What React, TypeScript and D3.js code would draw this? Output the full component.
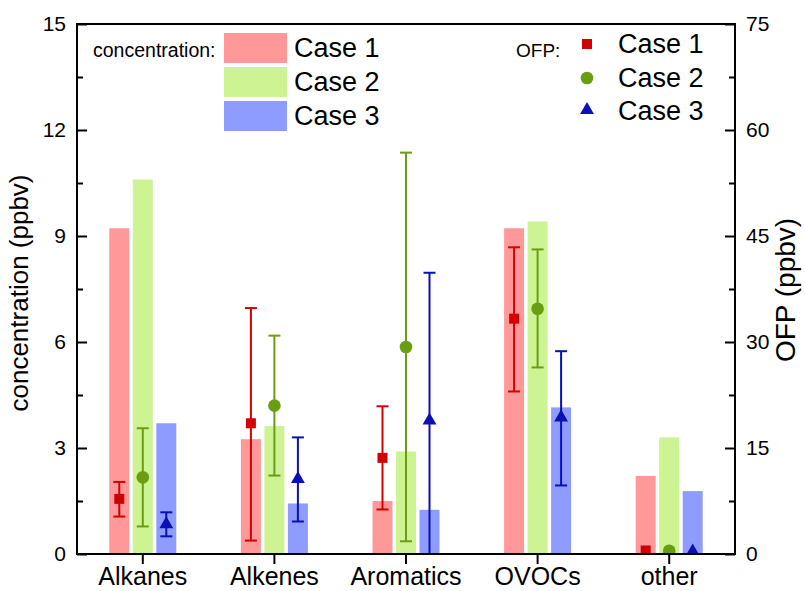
import React, { useEffect, useRef } from "react";
import * as d3 from "d3";

const categories = ["Alkanes", "Alkenes", "Aromatics", "OVOCs", "other"];
const caseNames = ["Case 1", "Case 2", "Case 3"];

// concentration (left axis, ppbv)
const conc1 = [9.22, 3.25, 1.5, 9.22, 2.21];
const conc2 = [10.6, 3.62, 2.9, 9.41, 3.3];
const conc3 = [3.7, 1.43, 1.25, 4.15, 1.78];

// OFP (right axis, ppbv) with error ranges
const ofp1 = [7.8, 18.5, 13.6, 33.3, 0.5];
const ofp1Low = [5.3, 1.9, 6.3, 23.0, 0.5];
const ofp1High = [10.2, 34.8, 20.9, 43.4, 0.5];
const ofp2 = [10.85, 21.0, 29.3, 34.7, 0.45];
const ofp2Low = [3.9, 11.1, 1.8, 26.4, 0.45];
const ofp2High = [17.8, 30.9, 56.8, 43.1, 0.45];
const ofp3 = [4.2, 10.6, 18.9, 19.3, 0.35];
const ofp3Low = [2.5, 4.6, 0, 9.7, 0.35];
const ofp3High = [5.9, 16.5, 39.8, 28.7, 0.35];

const leftMajor = [0, 3, 6, 9, 12, 15];
const leftMinor = [1.5, 4.5, 7.5, 10.5, 13.5];
const rightMajor = [0, 15, 30, 45, 60, 75];
const rightMinor = [7.5, 22.5, 37.5, 52.5, 67.5];

const barColors = ["#FF9999", "#CDF393", "#8F9CFF"];
const markColors = ["#D20000", "#6A9E12", "#0A10B4"];
const FONT = "'Liberation Sans', Arial, Helvetica, sans-serif";

const W = 805, H = 591;
const L = 77, R = 735, T = 24, B = 554;

export default function App() {
  const x = d3.scaleBand<string>().domain(categories).range([L, R]).padding(0);
  const yL = d3.scaleLinear().domain([0, 15]).range([B, T]);
  const yR = d3.scaleLinear().domain([0, 75]).range([B, T]);
  const off = d3.scaleLinear().domain([0, 2]).range([-23.5, 23.5]);
  const bw = 20;

  const concs = [conc1, conc2, conc3];
  const ofps = [ofp1, ofp2, ofp3];
  const lows = [ofp1Low, ofp2Low, ofp3Low];
  const highs = [ofp1High, ofp2High, ofp3High];
  const symbols = [d3.symbolSquare, d3.symbolCircle, d3.symbolTriangle];
  const symSizes = [100, 125, 83];

  const leftRef = useRef<SVGGElement>(null);
  const leftMinRef = useRef<SVGGElement>(null);
  const rightRef = useRef<SVGGElement>(null);
  const rightMinRef = useRef<SVGGElement>(null);
  const bottomRef = useRef<SVGGElement>(null);

  useEffect(() => {
    const style = (g: any, fs: number) => {
      g.select(".domain").remove();
      g.selectAll("line").attr("stroke", "#000").attr("stroke-width", 2);
      g.selectAll("text").attr("font-family", FONT).attr("font-size", fs).attr("fill", "#000");
    };
    d3.select(leftRef.current!)
      .call(d3.axisLeft(yL).tickValues(leftMajor).tickSize(-10).tickPadding(11).tickFormat(d3.format("d")) as any)
      .call((g: any) => style(g, 21));
    d3.select(leftMinRef.current!)
      .call(d3.axisLeft(yL).tickValues(leftMinor).tickSize(-6).tickFormat(() => "") as any)
      .call((g: any) => style(g, 21));
    d3.select(rightRef.current!)
      .call(d3.axisRight(yR).tickValues(rightMajor).tickSize(-10).tickPadding(11).tickFormat(d3.format("d")) as any)
      .call((g: any) => style(g, 21));
    d3.select(rightMinRef.current!)
      .call(d3.axisRight(yR).tickValues(rightMinor).tickSize(-6).tickFormat(() => "") as any)
      .call((g: any) => style(g, 21));
    d3.select(bottomRef.current!)
      .call(d3.axisBottom(x).tickSize(10).tickPadding(3) as any)
      .call((g: any) => style(g, 25));
  }, []);

  const legendRows = [48, 82, 116];

  return (
    <svg width={W} height={H} style={{ position: "absolute", left: 0, top: 0, background: "#fff" }}
      fontFamily={FONT}>
      <defs>
        <clipPath id="plotClip">
          <rect x={L} y={T} width={R - L} height={B - T} />
        </clipPath>
      </defs>
      <rect x={0} y={0} width={W} height={H} fill="#fff" />
      {/* bars */}
      {concs.map((arr, s) => (
        <g key={"b" + s} fill={barColors[s]}>
          {categories.map((c, i) => (
            <rect key={c} x={x(c)! + x.bandwidth() / 2 + off(s) - bw / 2} y={yL(arr[i])}
              width={bw} height={yL(0) - yL(arr[i])} />
          ))}
        </g>
      ))}
      {/* error bars & markers */}
      <g clipPath="url(#plotClip)">
        {ofps.map((arr, s) => (
          <g key={"m" + s}>
            {categories.map((c, i) => {
              const cx = x(c)! + x.bandwidth() / 2 + off(s);
              const lo = lows[s][i], hi = highs[s][i];
              const hasErr = hi - lo > 0.01;
              return (
                <g key={c} stroke={markColors[s]} strokeWidth={2}>
                  {hasErr && (
                    <>
                      <line x1={cx} x2={cx} y1={yR(lo)} y2={yR(hi)} />
                      <line x1={cx - 6} x2={cx + 6} y1={yR(hi)} y2={yR(hi)} />
                      <line x1={cx - 6} x2={cx + 6} y1={yR(lo)} y2={yR(lo)} />
                    </>
                  )}
                  <path d={d3.symbol(symbols[s], symSizes[s])()!} transform={`translate(${cx},${yR(arr[i])})`}
                    fill={markColors[s]} stroke="none" />
                </g>
              );
            })}
          </g>
        ))}
      </g>
      {/* axes */}
      <g ref={leftRef} transform={`translate(${L},0)`} />
      <g ref={leftMinRef} transform={`translate(${L},0)`} />
      <g ref={rightRef} transform={`translate(${R},0)`} />
      <g ref={rightMinRef} transform={`translate(${R},0)`} />
      <g ref={bottomRef} transform={`translate(0,${B})`} />
      <rect x={L} y={T} width={R - L} height={B - T} fill="none" stroke="#000" strokeWidth={2} />
      {/* axis titles */}
      <text transform={`translate(28,293) rotate(-90)`} textAnchor="middle" fontSize={26}>concentration (ppbv)</text>
      <text transform={`translate(795,290) rotate(-90)`} textAnchor="middle" fontSize={28}>OFP (ppbv)</text>
      {/* legend: concentration */}
      <text x={93} y={57} fontSize={19.5}>concentration:</text>
      {caseNames.map((n, s) => (
        <g key={"lc" + s}>
          <rect x={224} y={legendRows[s] - 15} width={63} height={30} fill={barColors[s]} />
          <text x={294} y={legendRows[s]} dy="0.35em" fontSize={27}>{n}</text>
        </g>
      ))}
      {/* legend: OFP */}
      <text x={516} y={50} dy="0.35em" fontSize={19}>OFP:</text>
      {caseNames.map((n, s) => (
        <g key={"lo" + s}>
          <path d={d3.symbol(symbols[s], symSizes[s])()!}
            transform={`translate(587,${[44, 78, 110][s]})`} fill={markColors[s]} />
          <text x={618} y={[44, 78, 111][s]} dy="0.35em" fontSize={27}>{n}</text>
        </g>
      ))}
    </svg>
  );
}
